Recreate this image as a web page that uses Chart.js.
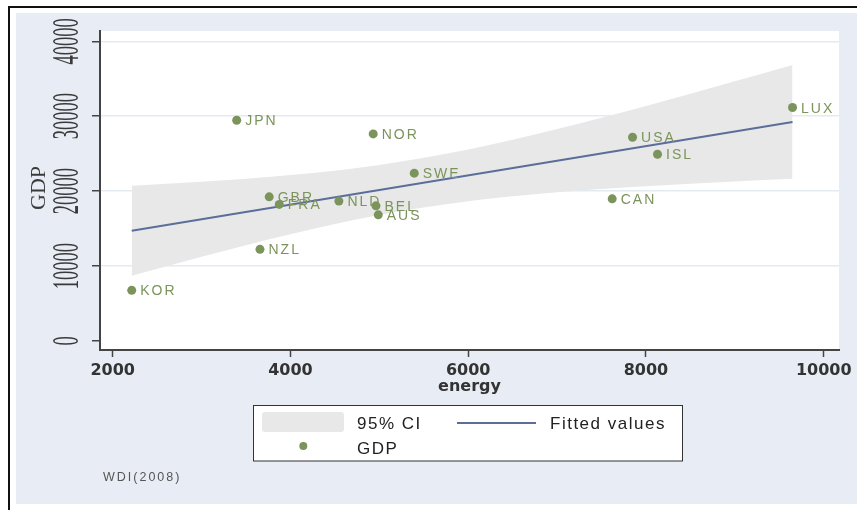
<!DOCTYPE html>
<html lang="en">
<head>
<meta charset="UTF-8" />
<title>GDP vs energy</title>
<script src="https://cdn.jsdelivr.net/npm/chart.js@4/dist/chart.umd.min.js"></script>
<style>
  html, body { margin: 0; padding: 0; background: #fff; }
  canvas { display: block; }
</style>
</head>
<body>
<canvas id="chart" width="857" height="510"></canvas>
<script>

const countries = ['JPN', 'NOR', 'SWE', 'GBR', 'FRA', 'NLD', 'BEL', 'AUS', 'NZL', 'KOR', 'LUX', 'USA', 'ISL', 'CAN'];
const energy = [3395, 4931, 5393, 3761, 3874, 4545, 4962, 4988, 3657, 2214, 9649, 7849, 8130, 7620];
const gdp = [29470, 27640, 22400, 19240, 18230, 18670, 18040, 16840, 12230, 6760, 31160, 27200, 24930, 18970];

const fitEnergy = [2214, 9649];
const fitGdp = [14710, 29240];

const ciEnergy = [2214, 3000, 4000, 5000, 6000, 7000, 8000, 9000, 9649];
const ciLow = [8710, 11240, 14260, 16810, 18650, 19850, 20670, 21290, 21640];
const ciHigh = [20710, 21240, 22140, 23500, 25560, 28280, 31370, 34660, 36840];

const xTicks = [2000, 4000, 6000, 8000, 10000];
const yTicks = [0, 10000, 20000, 30000, 40000];

const bgBlue = '#e8edf5';
const green = '#7b945b';
const navy = '#5b6e99';
const bandGrey = '#e8e8e8';

function pts(xs, ys) {
    return xs.map((x, i) => ({ x: x, y: ys[i] }));
}

// background, frame, rotated y labels, point labels, legend box
const stataLook = {
    id: 'stataLook',
    beforeDraw(chart) {
        const c = chart.ctx, a = chart.chartArea;
        c.save();
        c.fillStyle = '#fff';
        c.fillRect(0, 0, chart.width, chart.height);
        c.fillStyle = '#111';
        c.fillRect(8, 6, chart.width - 8, 2);
        c.fillRect(8, 6, 2, chart.height - 6);
        c.fillStyle = bgBlue;
        c.fillRect(16, 13, chart.width - 16, 491);
        c.fillStyle = '#fff';
        c.fillRect(a.left, a.top, a.right - a.left, a.bottom - a.top);
        c.restore();
    },
    afterDatasetsDraw(chart) {
        const c = chart.ctx;
        const meta = chart.getDatasetMeta(0);
        c.save();
        c.font = '14px "Liberation Sans"';
        c.letterSpacing = '2px';
        c.fillStyle = green;
        c.textAlign = 'left';
        c.textBaseline = 'alphabetic';
        meta.data.forEach((p, i) => {
            c.fillText(countries[i], p.x + 8.5, p.y + 5);
        });
        c.restore();
    },
    afterDraw(chart) {
        const c = chart.ctx;
        const ys = chart.scales.y;

        // y tick labels, rotated and squeezed
        c.save();
        c.fillStyle = '#3a3a3a';
        c.font = '37px "Liberation Serif"';
        c.textAlign = 'center';
        c.textBaseline = 'alphabetic';
        yTicks.forEach(v => {
            const py = ys.getPixelForValue(v);
            c.save();
            c.translate(65.5, py);
            c.rotate(-Math.PI / 2);
            c.scale(0.5, 1);
            c.fillText(String(v), 0, 12.5);
            c.restore();
        });
        // y title
        c.font = '22px "Liberation Serif"';
        c.save();
        c.translate(37.5, 188);
        c.rotate(-Math.PI / 2);
        c.fillText('GDP', 0, 7.5);
        c.restore();
        c.restore();

        // legend
        c.save();
        c.fillStyle = '#fff';
        c.fillRect(253.5, 405.5, 429, 55.5);
        c.strokeStyle = '#333';
        c.lineWidth = 1;
        c.strokeRect(253.5, 405.5, 429, 55.5);
        c.fillStyle = bandGrey;
        c.beginPath();
        c.roundRect(262, 412, 82, 20, 3);
        c.fill();
        c.strokeStyle = navy;
        c.lineWidth = 2;
        c.beginPath();
        c.moveTo(457, 423);
        c.lineTo(536, 423);
        c.stroke();
        c.fillStyle = green;
        c.beginPath();
        c.arc(303.3, 446, 4, 0, Math.PI * 2);
        c.fill();
        c.fillStyle = '#222';
        c.font = '17px "Liberation Sans"';
        c.letterSpacing = '1.5px';
        c.textAlign = 'left';
        c.textBaseline = 'alphabetic';
        const ds = chart.data.datasets;
        c.fillText(ds[2].label, 357, 429);
        c.fillText(ds[1].label, 550, 429);
        c.fillText(ds[0].label, 357, 454);

        // source note
        c.fillStyle = '#555';
        c.font = '12.5px "Liberation Sans"';
        c.letterSpacing = '2px';
        c.fillText('WDI(2008)', 103, 480.5);
        c.restore();
    }
};

const ctx = document.getElementById('chart').getContext('2d');

const myChart = new Chart(ctx, {
    type: 'scatter',
    data: {
        datasets: [{
            label: 'GDP',
            data: pts(energy, gdp),
            backgroundColor: green,
            borderWidth: 0,
            pointRadius: 4.5
        }, {
            type: 'line',
            label: 'Fitted values',
            data: pts(fitEnergy, fitGdp),
            borderColor: navy,
            borderWidth: 2,
            pointRadius: 0,
            fill: false
        }, {
            type: 'line',
            label: '95% CI',
            data: pts(ciEnergy, ciHigh),
            borderColor: 'rgba(0,0,0,0)',
            borderWidth: 0,
            backgroundColor: bandGrey,
            pointRadius: 0,
            cubicInterpolationMode: 'monotone',
            fill: '+1'
        }, {
            type: 'line',
            label: 'ci low',
            data: pts(ciEnergy, ciLow),
            borderColor: 'rgba(0,0,0,0)',
            borderWidth: 0,
            pointRadius: 0,
            cubicInterpolationMode: 'monotone',
            fill: false
        }]
    },
    options: {
        responsive: false,
        animation: false,
        devicePixelRatio: 1,
        layout: { padding: { left: 0, top: 31, right: 18, bottom: 110 } },
        plugins: {
            legend: { display: false },
            tooltip: { enabled: false }
        },
        scales: {
            x: {
                type: 'linear',
                min: 1857,
                max: 10172,
                afterBuildTicks: s => { s.ticks = xTicks.map(v => ({ value: v })); },
                afterFit: s => { s.height = 50; },
                grid: { drawOnChartArea: false, tickLength: 7, tickColor: '#444', tickWidth: 1.5 },
                border: { color: '#444', width: 2 },
                ticks: {
                    autoSkip: false,
                    maxRotation: 0,
                    padding: 4,
                    color: '#333',
                    font: { family: 'DejaVu Sans', size: 16, weight: 'bold' },
                    callback: v => String(v)
                },
                title: {
                    display: true,
                    text: 'energy',
                    color: '#333',
                    padding: { top: 0, bottom: 4 },
                    font: { family: 'DejaVu Sans', size: 16, weight: 'bold' }
                }
            },
            y: {
                min: -1202,
                max: 41375,
                afterBuildTicks: s => { s.ticks = yTicks.map(v => ({ value: v })); },
                afterFit: s => { s.width = 100; },
                grid: {
                    color: c => (c.tick && c.tick.value === 0) ? 'rgba(0,0,0,0)' : '#e4eaf2',
                    lineWidth: 1.5,
                    tickLength: 8,
                    tickColor: '#444',
                    tickWidth: 1.5
                },
                border: { color: '#444', width: 2 },
                ticks: { display: false }
            }
        }
    },
    plugins: [stataLook]
});

</script>
</body>
</html>
